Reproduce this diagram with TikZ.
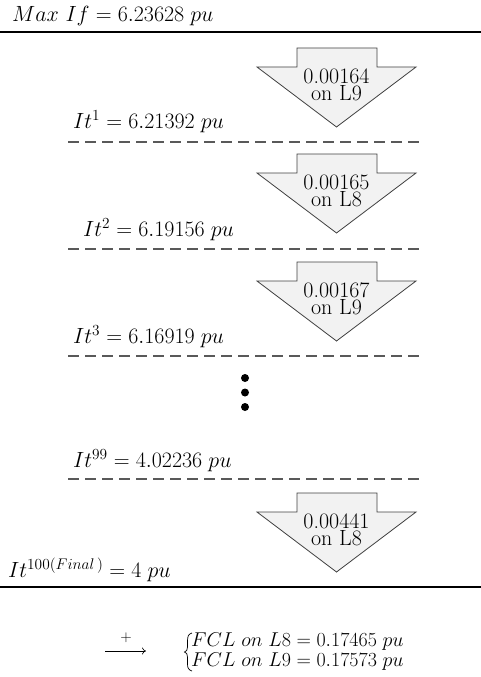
\documentclass[tikz,border=0pt]{standalone}
\usepackage{fix-cm}
\usetikzlibrary{arrows.meta}
\tikzset{
 lbl/.style={font=\fontsize{22}{26}\selectfont, inner sep=0pt, anchor=base west},
 fcl/.style={font=\fontsize{20}{24}\selectfont, inner sep=0pt, anchor=base west},
 atext/.style={font=\fontsize{22}{17}\selectfont, inner sep=0pt, anchor=base, align=center},
 ashape/.style={draw=black!75, fill=black!5, line width=0.8pt, line join=miter},
 solidline/.style={line width=1.8pt},
 dashline/.style={draw=black!65, line width=1.3pt, dash pattern=on 11pt off 6pt},
 dotstyle/.style={circle, fill=black, inner sep=0pt, minimum size=8pt},
}
\newcommand\decarrow[4]{%
 \draw[ashape] (297,#1) -- (377,#1) -- (377,{#1+19}) -- (416,{#1+19}) -- (336.5,{#1+79}) -- (257,{#1+19}) -- (297,{#1+19}) -- cycle;
 \node[atext] (#4) at (336.5,{#1+52}) {#2\\#3};
}
\begin{document}
\begin{tikzpicture}[x=1pt,y=-1pt]
\useasboundingbox (0,0) rectangle (481,677);
% header
\node[lbl] (maxif) at (12,22) {$Max\ If = 6.23628\;pu$};
\draw[solidline] (0,32) -- (481,32);
% arrows
\decarrow{48}{0.00164}{on L9}{arA}
\decarrow{154}{0.00165}{on L8}{arB}
\decarrow{262}{0.00167}{on L9}{arC}
\decarrow{493}{0.00441}{on L8}{arD}
% labels
\node[lbl] (it1) at (73,128) {$It^{1} = 6.21392\;pu$};
\draw[dashline] (68,142) -- (424,142);
\node[lbl] (it2) at (83,236) {$It^{2} = 6.19156\;pu$};
\draw[dashline] (68,249) -- (424,249);
\node[lbl] (it3) at (73,343) {$It^{3} = 6.16919\;pu$};
\draw[dashline] (68,356) -- (424,356);
% dots
\node[dotstyle] (d1) at (245,378) {};
\node[dotstyle] (d2) at (245,392.5) {};
\node[dotstyle] (d3) at (245,407) {};
\node[lbl] (it99) at (73,467) {$It^{99} = 4.02236\;pu$};
\draw[dashline] (68,479) -- (424,479);
\node[lbl] (it100) at (8,577) {$It^{100(Final\,)} = 4\;pu$};
\draw[solidline] (0,587) -- (481,587);
% result
\coordinate (ps) at (105,651);
\coordinate (pe) at (146,651);
\draw[-{To[length=4pt,width=7pt]}, line width=0.6pt] (ps) -- (pe);
\node[font=\fontsize{15}{17}\selectfont, inner sep=0pt] (plus) at (126,638) {$+$};
\draw[line width=0.7pt] (192,633) .. controls (188.5,634) and (187.5,636) .. (187.5,641) -- (187.5,647) .. controls (187.5,650) and (186.5,651.5) .. (184.5,652) .. controls (186.5,652.5) and (187.5,654) .. (187.5,657) -- (187.5,664) .. controls (187.5,668) and (188.5,670) .. (192,671);
\node[fcl] (fcl8) at (191,646) {$FCL\ on\ L8 = 0.17465\;pu$};
\node[fcl] (fcl9) at (191,666) {$FCL\ on\ L9 = 0.17573\;pu$};
\end{tikzpicture}
\end{document}
